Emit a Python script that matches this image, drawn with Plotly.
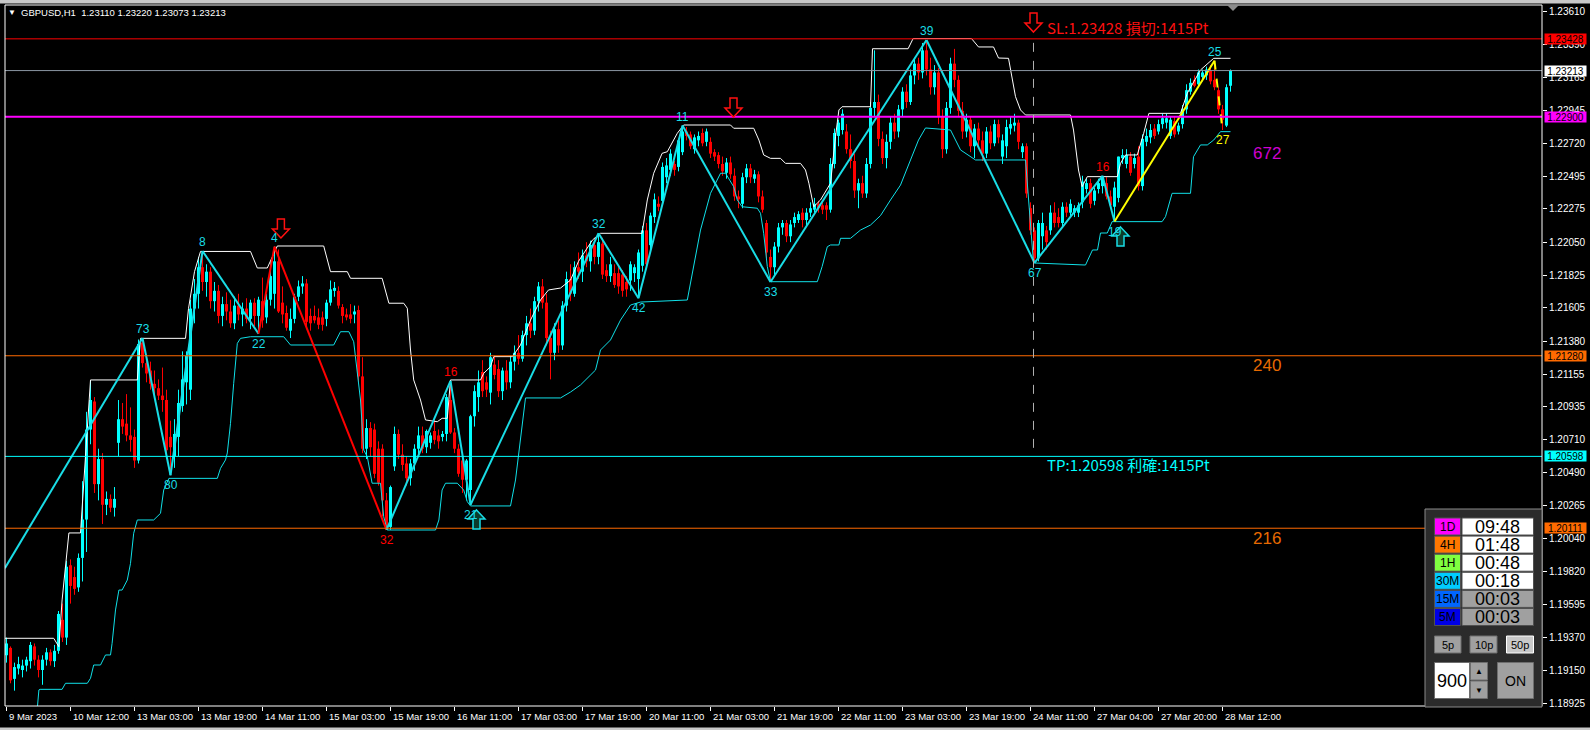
import plotly.graph_objects as go

# ---------------- data ----------------
SYMBOL = "GBPUSD,H1"
HEADER_OHLC = ["1.23110", "1.23220", "1.23073", "1.23213"]

opens = [
    1.1925, 1.1930, 1.1909, 1.1916, 1.1915, 1.1918, 1.1921, 1.1931, 1.1922, 1.1915,
    1.1922, 1.1927, 1.1921, 1.1928, 1.1949, 1.1937, 1.1986, 1.1978, 1.1971, 1.1991,
    1.2017, 1.2078, 1.2097, 1.2041, 1.2058, 1.2027, 1.2031, 1.2025, 1.2069, 1.2085,
    1.2082, 1.2074, 1.2073, 1.2057, 1.2137, 1.2123, 1.2118, 1.2109, 1.2106, 1.2101,
    1.2098, 1.2073, 1.2060, 1.2073, 1.2094, 1.2110, 1.2105, 1.2160, 1.2170, 1.2188,
    1.2178, 1.2185, 1.2165, 1.2172, 1.2155, 1.2163, 1.2158, 1.2150, 1.2162, 1.2156,
    1.2160, 1.2153, 1.2164, 1.2155, 1.2165, 1.2154, 1.2166, 1.2170, 1.2192, 1.2164,
    1.2157, 1.2145, 1.2153, 1.2168, 1.2175, 1.2177, 1.2155, 1.2155, 1.2154, 1.2154,
    1.2153, 1.2164, 1.2172, 1.2172, 1.2161, 1.2156, 1.2156, 1.2156, 1.2159, 1.2114,
    1.2065, 1.2079, 1.2078, 1.2065, 1.2065, 1.2030, 1.2012, 1.2053, 1.2075, 1.2061,
    1.2055, 1.2045, 1.2055, 1.2065, 1.2074, 1.2066, 1.2069, 1.2077, 1.2074, 1.2073,
    1.2075, 1.2098, 1.2076, 1.2065, 1.2057, 1.2044, 1.2037, 1.2087, 1.2100, 1.2117,
    1.2110, 1.2103, 1.2122, 1.2119, 1.2104, 1.2118, 1.2110, 1.2124, 1.2130, 1.2126,
    1.2142, 1.2150, 1.2145, 1.2165, 1.2175, 1.2164, 1.2140, 1.2130, 1.2146, 1.2135,
    1.2162, 1.2180, 1.2170, 1.2188, 1.2185, 1.2196, 1.2192, 1.2203, 1.2195, 1.2204,
    1.2186, 1.2182, 1.2184, 1.2184, 1.2183, 1.2178, 1.2179, 1.2184, 1.2180, 1.2189,
    1.2213, 1.2203, 1.2222, 1.2231, 1.2233, 1.2249, 1.2254, 1.2258, 1.2256, 1.2266,
    1.2280, 1.2278, 1.2268, 1.2274, 1.2279, 1.2273, 1.2273, 1.2266, 1.2264, 1.2258,
    1.2252, 1.2259, 1.2250, 1.2236, 1.2231, 1.2249, 1.2255, 1.2248, 1.2251, 1.2236,
    1.2218, 1.2195, 1.2188, 1.2202, 1.2215, 1.2218, 1.2209, 1.2218, 1.2220, 1.2225,
    1.2220, 1.2225, 1.2227, 1.2231, 1.2230, 1.2230, 1.2227, 1.2258, 1.2277, 1.2281,
    1.2280, 1.2268, 1.2260, 1.2240, 1.2245, 1.2238, 1.2258, 1.2296, 1.2300, 1.2275,
    1.2262, 1.2273, 1.2286, 1.2280, 1.2295, 1.2307, 1.2300, 1.2318, 1.2326, 1.2320,
    1.2335, 1.2322, 1.2310, 1.2320, 1.2290, 1.2268, 1.2296, 1.2326, 1.2315, 1.2294,
    1.2280, 1.2288, 1.2270, 1.2282, 1.2274, 1.2265, 1.2280, 1.2272, 1.2285, 1.2263,
    1.2270, 1.2282, 1.2284, 1.2286, 1.2266, 1.2270, 1.2228, 1.2213, 1.2194, 1.2209,
    1.2213, 1.2213, 1.2225, 1.2222, 1.2218, 1.2229, 1.2225, 1.2225, 1.2225, 1.2232,
    1.2241, 1.2245, 1.2233, 1.2241, 1.2243, 1.2245, 1.2236, 1.2229, 1.2235, 1.2262,
    1.2258, 1.2263, 1.2258, 1.2263, 1.2243, 1.2273, 1.2276, 1.2282, 1.2280, 1.2285,
    1.2286, 1.2277, 1.2287, 1.2280, 1.2285, 1.2295, 1.2307, 1.2315, 1.2312, 1.2317,
    1.2318, 1.2321, 1.2315, 1.2308, 1.2295, 1.2284, 1.2311,
]
highs = [
    1.1937, 1.1931, 1.1920, 1.1924, 1.1922, 1.1924, 1.1934, 1.1933, 1.1925, 1.1925,
    1.1930, 1.1929, 1.1932, 1.1955, 1.1960, 1.1989, 1.1990, 1.1985, 1.1994, 1.2043,
    1.2090, 1.2111, 1.2100, 1.2065, 1.2062, 1.2036, 1.2034, 1.2039, 1.2098, 1.2096,
    1.2102, 1.2093, 1.2078, 1.2139, 1.2140, 1.2128, 1.2124, 1.2118, 1.2112, 1.2120,
    1.2105, 1.2084, 1.2085, 1.2105, 1.2131, 1.2131, 1.2166, 1.2180, 1.2195, 1.2199,
    1.2190, 1.2188, 1.2178, 1.2176, 1.2168, 1.2171, 1.2166, 1.2168, 1.2170, 1.2164,
    1.2167, 1.2166, 1.2167, 1.2168, 1.2181, 1.2170, 1.2192, 1.2202, 1.2200, 1.2175,
    1.2162, 1.2160, 1.2170, 1.2179, 1.2182, 1.2180, 1.2160, 1.2162, 1.2160, 1.2158,
    1.2166, 1.2179, 1.2178, 1.2175, 1.2163, 1.2160, 1.2163, 1.2162, 1.2162, 1.2127,
    1.2085, 1.2083, 1.2082, 1.2070, 1.2068, 1.2035, 1.2040, 1.2080, 1.2078, 1.2068,
    1.2060, 1.2058, 1.2068, 1.2080, 1.2080, 1.2078, 1.2076, 1.2085, 1.2078, 1.2077,
    1.2102, 1.2111, 1.2079, 1.2068, 1.2060, 1.2058, 1.2088, 1.2108, 1.2118, 1.2125,
    1.2114, 1.2130, 1.2128, 1.2125, 1.2120, 1.2125, 1.2128, 1.2135, 1.2142, 1.2145,
    1.2155, 1.2160, 1.2168, 1.2178, 1.2180, 1.2170, 1.2145, 1.2150, 1.2152, 1.2165,
    1.2185, 1.2190, 1.2192, 1.2198, 1.2200, 1.2205, 1.2206, 1.2208, 1.2211, 1.2208,
    1.2190, 1.2195, 1.2190, 1.2188, 1.2186, 1.2182, 1.2192, 1.2190, 1.2200, 1.2216,
    1.2218, 1.2225, 1.2238, 1.2236, 1.2259, 1.2262, 1.2268, 1.2260, 1.2275, 1.2284,
    1.2283, 1.2280, 1.2278, 1.2280, 1.2282, 1.2282, 1.2276, 1.2268, 1.2266, 1.2263,
    1.2262, 1.2263, 1.2255, 1.2240, 1.2252, 1.2258, 1.2258, 1.2254, 1.2253, 1.2240,
    1.2220, 1.2200, 1.2205, 1.2218, 1.2220, 1.2220, 1.2220, 1.2225, 1.2226, 1.2228,
    1.2228, 1.2232, 1.2235, 1.2233, 1.2232, 1.2232, 1.2262, 1.2282, 1.2288, 1.2295,
    1.2285, 1.2278, 1.2265, 1.2248, 1.2250, 1.2262, 1.2300, 1.2335, 1.2305, 1.2280,
    1.2278, 1.2290, 1.2292, 1.2298, 1.2310, 1.2312, 1.2322, 1.2330, 1.2330, 1.2340,
    1.2342, 1.2330, 1.2325, 1.2323, 1.2295, 1.2300, 1.2330, 1.2336, 1.2318, 1.2300,
    1.2292, 1.2290, 1.2285, 1.2286, 1.2280, 1.2283, 1.2284, 1.2288, 1.2288, 1.2278,
    1.2288, 1.2290, 1.2292, 1.2288, 1.2272, 1.2272, 1.2232, 1.2215, 1.2220, 1.2225,
    1.2216, 1.2230, 1.2232, 1.2228, 1.2232, 1.2232, 1.2234, 1.2230, 1.2232, 1.2250,
    1.2248, 1.2248, 1.2242, 1.2248, 1.2250, 1.2249, 1.2240, 1.2246, 1.2263, 1.2268,
    1.2268, 1.2266, 1.2265, 1.2270, 1.2278, 1.2282, 1.2285, 1.2285, 1.2288, 1.2292,
    1.2292, 1.2290, 1.2290, 1.2286, 1.2298, 1.2312, 1.2316, 1.2318, 1.2322, 1.2322,
    1.2324, 1.2325, 1.2328, 1.2310, 1.2298, 1.2312, 1.2322,
]
lows = [
    1.1920, 1.1906, 1.1901, 1.1912, 1.1910, 1.1914, 1.1916, 1.1918, 1.1910, 1.1905,
    1.1918, 1.1918, 1.1917, 1.1926, 1.1934, 1.1932, 1.1960, 1.1966, 1.1968, 1.1975,
    1.1995, 1.2068, 1.2035, 1.2030, 1.2014, 1.2020, 1.2022, 1.2019, 1.2060, 1.2075,
    1.2070, 1.2063, 1.2052, 1.2055, 1.2120, 1.2110, 1.2105, 1.2100, 1.2098, 1.2090,
    1.2058, 1.2047, 1.2052, 1.2060, 1.2090, 1.2095, 1.2098, 1.2150, 1.2160, 1.2172,
    1.2168, 1.2160, 1.2158, 1.2150, 1.2148, 1.2152, 1.2147, 1.2146, 1.2152, 1.2148,
    1.2150, 1.2146, 1.2148, 1.2143, 1.2147, 1.2150, 1.2162, 1.2160, 1.2157, 1.2150,
    1.2145, 1.2140, 1.2150, 1.2165, 1.2170, 1.2148, 1.2145, 1.2150, 1.2146, 1.2145,
    1.2148, 1.2162, 1.2168, 1.2160, 1.2150, 1.2152, 1.2150, 1.2150, 1.2110, 1.2062,
    1.2058, 1.2060, 1.2045, 1.2040, 1.2019, 1.2010, 1.2010, 1.2050, 1.2058, 1.2050,
    1.2040, 1.2040, 1.2050, 1.2060, 1.2062, 1.2062, 1.2065, 1.2068, 1.2065, 1.2070,
    1.2070, 1.2075, 1.2062, 1.2046, 1.2035, 1.2030, 1.2027, 1.2080, 1.2090, 1.2100,
    1.2100, 1.2095, 1.2112, 1.2100, 1.2098, 1.2105, 1.2106, 1.2118, 1.2122, 1.2124,
    1.2135, 1.2140, 1.2142, 1.2158, 1.2160, 1.2135, 1.2112, 1.2125, 1.2130, 1.2132,
    1.2158, 1.2165, 1.2168, 1.2180, 1.2178, 1.2188, 1.2185, 1.2190, 1.2190, 1.2180,
    1.2178, 1.2178, 1.2174, 1.2170, 1.2168, 1.2168, 1.2172, 1.2178, 1.2167, 1.2185,
    1.2188, 1.2198, 1.2218, 1.2226, 1.2230, 1.2245, 1.2250, 1.2250, 1.2253, 1.2264,
    1.2274, 1.2268, 1.2265, 1.2270, 1.2270, 1.2270, 1.2262, 1.2260, 1.2255, 1.2250,
    1.2248, 1.2248, 1.2233, 1.2228, 1.2228, 1.2245, 1.2245, 1.2245, 1.2232, 1.2225,
    1.2194, 1.2178, 1.2182, 1.2198, 1.2210, 1.2205, 1.2205, 1.2215, 1.2218, 1.2215,
    1.2216, 1.2222, 1.2225, 1.2225, 1.2224, 1.2220, 1.2225, 1.2255, 1.2270, 1.2278,
    1.2265, 1.2255, 1.2235, 1.2228, 1.2235, 1.2235, 1.2255, 1.2290, 1.2270, 1.2258,
    1.2255, 1.2268, 1.2275, 1.2276, 1.2290, 1.2296, 1.2298, 1.2312, 1.2315, 1.2316,
    1.2318, 1.2305, 1.2305, 1.2285, 1.2262, 1.2265, 1.2292, 1.2310, 1.2290, 1.2275,
    1.2276, 1.2266, 1.2262, 1.2270, 1.2260, 1.2262, 1.2268, 1.2270, 1.2272, 1.2258,
    1.2262, 1.2278, 1.2280, 1.2268, 1.2262, 1.2235, 1.2210, 1.2191, 1.2192, 1.2200,
    1.2200, 1.2210, 1.2215, 1.2215, 1.2215, 1.2222, 1.2222, 1.2222, 1.2222, 1.2228,
    1.2238, 1.2228, 1.2230, 1.2238, 1.2238, 1.2234, 1.2228, 1.2219, 1.2232, 1.2258,
    1.2255, 1.2250, 1.2255, 1.2240, 1.2240, 1.2270, 1.2272, 1.2275, 1.2278, 1.2282,
    1.2282, 1.2275, 1.2276, 1.2278, 1.2282, 1.2292, 1.2305, 1.2310, 1.2310, 1.2314,
    1.2315, 1.2312, 1.2308, 1.2292, 1.2281, 1.2283, 1.2307,
]
closes = [
    1.1933, 1.1908, 1.1917, 1.1919, 1.1918, 1.1922, 1.1932, 1.1922, 1.1915, 1.1922,
    1.1927, 1.1921, 1.1928, 1.1953, 1.1937, 1.1985, 1.1972, 1.1970, 1.1991, 1.2017,
    1.2078, 1.2098, 1.2041, 1.2058, 1.2027, 1.2031, 1.2025, 1.2031, 1.2085, 1.2080,
    1.2074, 1.2071, 1.2057, 1.2136, 1.2123, 1.2116, 1.2109, 1.2106, 1.2101, 1.2098,
    1.2064, 1.2066, 1.2075, 1.2096, 1.2112, 1.2128, 1.2160, 1.2170, 1.2188, 1.2178,
    1.2185, 1.2165, 1.2172, 1.2155, 1.2163, 1.2158, 1.2150, 1.2162, 1.2156, 1.2160,
    1.2153, 1.2164, 1.2155, 1.2166, 1.2152, 1.2166, 1.2182, 1.2192, 1.2158, 1.2156,
    1.2147, 1.2153, 1.2168, 1.2175, 1.2177, 1.2151, 1.2150, 1.2152, 1.2149, 1.2149,
    1.2164, 1.2173, 1.2174, 1.2162, 1.2155, 1.2154, 1.2153, 1.2158, 1.2114, 1.2065,
    1.2079, 1.2066, 1.2048, 1.2042, 1.2030, 1.2012, 1.2039, 1.2075, 1.2061, 1.2054,
    1.2045, 1.2055, 1.2065, 1.2074, 1.2065, 1.2077, 1.2074, 1.2071, 1.2070, 1.2075,
    1.2100, 1.2076, 1.2065, 1.2048, 1.2044, 1.2057, 1.2087, 1.2104, 1.2110, 1.2104,
    1.2105, 1.2127, 1.2115, 1.2104, 1.2118, 1.2110, 1.2124, 1.2130, 1.2126, 1.2142,
    1.2150, 1.2145, 1.2165, 1.2175, 1.2164, 1.2140, 1.2130, 1.2146, 1.2135, 1.2162,
    1.2180, 1.2170, 1.2188, 1.2185, 1.2196, 1.2192, 1.2203, 1.2195, 1.2205, 1.2183,
    1.2182, 1.2190, 1.2176, 1.2175, 1.2172, 1.2173, 1.2190, 1.2188, 1.2198, 1.2213,
    1.2190, 1.2223, 1.2234, 1.2229, 1.2256, 1.2257, 1.2265, 1.2254, 1.2274, 1.2280,
    1.2277, 1.2270, 1.2276, 1.2277, 1.2272, 1.2280, 1.2265, 1.2263, 1.2258, 1.2253,
    1.2259, 1.2251, 1.2236, 1.2234, 1.2249, 1.2255, 1.2249, 1.2251, 1.2236, 1.2227,
    1.2198, 1.2188, 1.2202, 1.2215, 1.2218, 1.2209, 1.2217, 1.2222, 1.2224, 1.2220,
    1.2225, 1.2228, 1.2231, 1.2228, 1.2227, 1.2227, 1.2258, 1.2279, 1.2286, 1.2292,
    1.2268, 1.2260, 1.2240, 1.2245, 1.2238, 1.2258, 1.2296, 1.2300, 1.2275, 1.2262,
    1.2273, 1.2286, 1.2280, 1.2295, 1.2307, 1.2300, 1.2318, 1.2326, 1.2320, 1.2335,
    1.2322, 1.2310, 1.2320, 1.2290, 1.2268, 1.2296, 1.2326, 1.2315, 1.2294, 1.2280,
    1.2288, 1.2270, 1.2282, 1.2274, 1.2265, 1.2280, 1.2272, 1.2285, 1.2276, 1.2274,
    1.2283, 1.2285, 1.2286, 1.2273, 1.2270, 1.2238, 1.2213, 1.2194, 1.2218, 1.2218,
    1.2205, 1.2225, 1.2218, 1.2218, 1.2229, 1.2225, 1.2231, 1.2228, 1.2230, 1.2246,
    1.2245, 1.2231, 1.2240, 1.2245, 1.2249, 1.2236, 1.2230, 1.2242, 1.2263, 1.2264,
    1.2264, 1.2252, 1.2262, 1.2243, 1.2275, 1.2277, 1.2281, 1.2277, 1.2285, 1.2289,
    1.2289, 1.2288, 1.2278, 1.2284, 1.2295, 1.2308, 1.2313, 1.2311, 1.2320, 1.2320,
    1.2322, 1.2314, 1.2310, 1.2295, 1.2288, 1.2310, 1.2321,
]
assert len(opens) == len(highs) == len(lows) == len(closes)
bar_index = list(range(len(closes)))

time_tick_bars = [0, 16, 32, 48, 64, 80, 96, 112, 128, 144, 160, 176, 192, 208, 224, 240, 256, 272, 288, 304]
time_tick_labels = ["9 Mar 2023", "10 Mar 12:00", "13 Mar 03:00", "13 Mar 19:00", "14 Mar 11:00",
                    "15 Mar 03:00", "15 Mar 19:00", "16 Mar 11:00", "17 Mar 03:00", "17 Mar 19:00",
                    "20 Mar 11:00", "21 Mar 03:00", "21 Mar 19:00", "22 Mar 11:00", "23 Mar 03:00",
                    "23 Mar 19:00", "24 Mar 11:00", "27 Mar 04:00", "27 Mar 20:00", "28 Mar 12:00"]

price_ticks = [1.23610, 1.23390, 1.23165, 1.22945, 1.22720, 1.22495, 1.22275, 1.22050, 1.21825,
               1.21605, 1.21380, 1.21155, 1.20935, 1.20710, 1.20490, 1.20265, 1.20040, 1.19820,
               1.19595, 1.19370, 1.19150, 1.18925]

# horizontal levels: SL, current price, 1.22900, 1.21280, TP, 1.20111
level_prices = [1.23428, 1.23213, 1.22900, 1.21280, 1.20598, 1.20111]
level_colors = ["#FF0000", "#8A96A3", "#FF00FF", "#FF6A00", "#00FFFF", "#FF6A00"]
level_box_colors = ["#FF0000", "#FFFFFF", "#FF00FF", "#FF6A00", "#00FFFF", "#FF6A00"]
level_widths = [1, 1, 2, 1, 1, 1]

count_labels = ["672", "240", "216"]
count_label_prices = [1.22648, 1.21211, 1.20040]
count_label_colors = ["#D000D0", "#E86A00", "#E86A00"]
count_label_bar = 315

# zigzag pivots
zz_bars = [-0.4, 34, 41, 49, 63, 67, 95, 111, 116, 148, 158, 169, 191, 230, 257, 274, 277, 302, 304]
zz_prices = [1.1984, 1.2140, 1.2047, 1.2199, 1.2143, 1.2202, 1.2010, 1.2111, 1.2027, 1.2211,
             1.2167, 1.2284, 1.2178, 1.2342, 1.2191, 1.2250, 1.2219, 1.2328, 1.2281]
zz_labels = ["", "73", "80", "8", "22", "4", "32", "16", "21", "32", "42", "11", "33", "39", "67",
             "16", "19", "25", "27"]
CY, RD, YL = "#19DDE6", "#FF0000", "#FFFF00"
zz_label_colors = [CY, CY, CY, CY, CY, CY, RD, RD, CY, CY, CY, CY, CY, CY, CY, RD, CY, CY, YL]
zz_seg_colors = [CY, CY, CY, CY, RD, RD, CY, CY, CY, CY, CY, CY, CY, CY, CY, CY, YL, YL]
zz_seg_dash = ["solid"] * 17 + ["dash"]

# channel lines (upper = white, lower = cyan)
upper_bars = [-0.4, 11.8, 13.1, 13.9, 15.6, 18.5, 21, 32.7, 33.5, 44.75, 45.5, 47, 48.5, 61, 62.7,
              65.2, 67.7, 79.3, 81, 85.2, 86, 93.9, 95.6, 99.3, 100.2, 101, 101.8, 103.5, 104.75,
              107.7, 108.9, 110.2, 111, 118.5, 119.3, 121, 121.8, 126.5, 128.5, 131, 133.5, 135.5,
              138.5, 141, 143, 144.75, 146.5, 148.5, 158.9, 160.2, 161.8, 163.9, 165.2, 167.7, 169.3,
              181, 181.8, 186.8, 188.1, 189.3, 191, 193.5, 194.75, 198.5, 199.75, 200.6, 201.8, 203.5,
              206, 207.25, 208.1, 208.9, 216, 216.5, 225.4, 226.65, 241.25, 243, 246.75, 248, 250.5,
              252.25, 253.5, 254.75, 266, 266.75, 268, 268.9, 270.2, 277.7, 278.5, 279.75, 282.7,
              284.3, 285.6, 293.5, 295.2, 298.5, 301.8, 306]
upper_prices = [1.19365, 1.19365, 1.19308, 1.19625, 1.20079, 1.20079, 1.21116, 1.21116, 1.21398,
                1.21398, 1.2160, 1.2185, 1.21987, 1.21987, 1.21875, 1.21875, 1.22024, 1.22024, 1.2185,
                1.2185, 1.21805, 1.21805, 1.21636, 1.21636, 1.21602, 1.21319, 1.21116, 1.2098,
                1.20845, 1.20833, 1.20856, 1.20856, 1.21116, 1.21116, 1.21161, 1.21206, 1.21274,
                1.21274, 1.21353, 1.21522, 1.21658, 1.21726, 1.21739, 1.21793, 1.2192, 1.21997,
                1.22065, 1.2211, 1.2211, 1.22336, 1.22517, 1.22652, 1.22663, 1.22788, 1.22844,
                1.22844, 1.22822, 1.22822, 1.22742, 1.22641, 1.22618, 1.22618, 1.22584, 1.22584,
                1.22539, 1.22449, 1.2229, 1.22336, 1.22449, 1.22765, 1.22946, 1.22968, 1.22968,
                1.23361, 1.23361, 1.2343, 1.2343, 1.23373, 1.23373, 1.23298, 1.23296, 1.23036,
                1.22946, 1.22912, 1.22912, 1.2281, 1.22539, 1.22426, 1.22494, 1.22494, 1.22584,
                1.22641, 1.22641, 1.22788, 1.22923, 1.22923, 1.2306, 1.23217, 1.23296, 1.23296]
lower_bars = [7.6, 8.1, 8.4, 13.9, 14.75, 20.2, 21, 21.8, 23.5, 24.75, 26, 26.4, 27.25, 28.1, 28.9,
              30.2, 31, 31.8, 32.7, 36.8, 38.5, 39.3, 40.6, 52.7, 53.5, 54.75, 55.2, 56, 56.8, 57.7,
              58.5, 61, 69.3, 71, 81.8, 83.5, 85.6, 86.8, 88.5, 89.3, 90.2, 91.4, 93.5, 94.3, 95.2,
              107.25, 108.1, 108.9, 109.75, 112.7, 114.3, 115.2, 116, 126, 127.25, 128.5, 129.75,
              138.5, 141, 143.5, 147.25, 148.5, 151, 153.5, 156, 158.5, 170.2, 173.5, 176, 178.5,
              179.75, 181.8, 182.7, 183.9, 187.7, 188.5, 189.3, 190.2, 191, 202.7, 203.9, 205.2, 206,
              208.1, 208.5, 211, 213.5, 216, 218.5, 221, 223.5, 226, 228, 229.75, 236, 238.5, 242.25,
              254.75, 256.75, 269.75, 270.5, 271.5, 272.75, 273.5, 275.2, 276.4, 288.9, 289.75,
              291.4, 296, 296.75, 298.5, 300.2, 301.8, 303.5, 306]
lower_prices = [1.1886, 1.19015, 1.19019, 1.19019, 1.1906, 1.1906, 1.19094, 1.19184, 1.19184,
                1.19252, 1.19252, 1.19331, 1.19557, 1.19692, 1.19692, 1.1976, 1.19873, 1.20077,
                1.20167, 1.20167, 1.20212, 1.2037, 1.20449, 1.20449, 1.20517, 1.20574, 1.20621,
                1.20822, 1.21093, 1.21364, 1.21398, 1.21409, 1.21409, 1.21353, 1.21353, 1.21443,
                1.21443, 1.21375, 1.2098, 1.20641, 1.20596, 1.20416, 1.20416, 1.20189, 1.20099,
                1.20099, 1.20167, 1.2037, 1.20416, 1.20416, 1.2037, 1.20291, 1.20262, 1.20262,
                1.20438, 1.20709, 1.20994, 1.20994, 1.21034, 1.21082, 1.21183, 1.21319, 1.21387,
                1.21522, 1.21624, 1.21644, 1.21658, 1.22132, 1.22381, 1.22517, 1.22517, 1.22426,
                1.22336, 1.2229, 1.2228, 1.22246, 1.2211, 1.21884, 1.21782, 1.21782, 1.21884,
                1.22019, 1.22031, 1.22031, 1.22076, 1.22076, 1.22132, 1.22166, 1.2223, 1.22336,
                1.22437, 1.22607, 1.22742, 1.22824, 1.2281, 1.22675, 1.22607, 1.22607, 1.21909,
                1.21895, 1.21943, 1.21997, 1.21997, 1.22112, 1.22112, 1.22189, 1.22189, 1.22223,
                1.22381, 1.22381, 1.22629, 1.22709, 1.22709, 1.22742, 1.22799, 1.22799]

# signal arrows (bar, tip price)
sell_arrow_bars = [68.6, 181.75, 256.75]
sell_arrow_tips = [1.22078, 1.22898, 1.23474]
buy_arrow_bars = [117.5, 278.5]
buy_arrow_tips = [1.20235, 1.22153]

sl_text = "SL:1.23428 損切:1415Pt"
tp_text = "TP:1.20598 利確:1415Pt"
sl_tp_bar = 256.75
text_bar = 259.6
sl_text_price = 1.23502
tp_text_price = 1.20540

timer_labels = ["1D", "4H", "1H", "30M", "15M", "5M"]
timer_values = ["09:48", "01:48", "00:48", "00:18", "00:03", "00:03"]
timer_colors = ["#FF00FF", "#FF7700", "#80FF40", "#00CCFF", "#0066FF", "#0000E6"]
timer_active = [True, True, True, True, False, False]
pip_buttons = ["5p", "10p", "50p"]
lot_value = "900"

# ---------------- geometry ----------------
L, R, T, B = 5, 1542, 5, 706
X_RANGE = [-0.375, 383.875]
Y_RANGE = [1.189061, 1.236574]
BAR_PX = (R - L) / (X_RANGE[1] - X_RANGE[0])
PRICE_PER_PX = (Y_RANGE[1] - Y_RANGE[0]) / (B - T)


def px(x):
    return (x - L) / (R - L)


def py(y):
    return (B - y) / (B - T)


SANS = "Liberation Sans, Arial, sans-serif"
CJK = "Noto Sans CJK JP, Noto Sans CJK SC, sans-serif"
AXIS_FONT = 9.5

fig = go.Figure()

# ---- candles ----
up_c, dn_c = "#00FFFF", "#FF0000"
body_base = [min(o, c) for o, c in zip(opens, closes)]
body_h = [max(abs(c - o), PRICE_PER_PX) for o, c in zip(opens, closes)]
body_col = [up_c if c >= o else dn_c for o, c in zip(opens, closes)]
for col in (up_c, dn_c):
    wx, wy = [], []
    for i in bar_index:
        if body_col[i] == col:
            wx += [i, i, None]
            wy += [lows[i], highs[i], None]
    fig.add_trace(go.Scatter(x=wx, y=wy, mode="lines", line=dict(color=col, width=1),
                             hoverinfo="skip", showlegend=False))
fig.add_trace(go.Bar(x=bar_index, y=body_h, base=body_base, width=0.75,
                     marker=dict(color=body_col, line=dict(width=0)),
                     hoverinfo="skip", showlegend=False))

# ---- channels ----
fig.add_trace(go.Scatter(x=upper_bars, y=upper_prices, mode="lines",
                         line=dict(color="#FFFFFF", width=1), hoverinfo="skip", showlegend=False))
fig.add_trace(go.Scatter(x=lower_bars, y=lower_prices, mode="lines",
                         line=dict(color="#10E0E8", width=1), hoverinfo="skip", showlegend=False))

# ---- zigzag ----
for k in range(len(zz_bars) - 1):
    fig.add_trace(go.Scatter(x=[zz_bars[k], zz_bars[k + 1]], y=[zz_prices[k], zz_prices[k + 1]],
                             mode="lines", line=dict(color=zz_seg_colors[k], width=2, dash=zz_seg_dash[k]),
                             hoverinfo="skip", showlegend=False))

shapes, annotations = [], []

# ---- horizontal levels ----
for p, col, w in zip(level_prices, level_colors, level_widths):
    shapes.append(dict(type="line", xref="paper", yref="y", x0=0, x1=1, y0=p, y1=p,
                       line=dict(color=col, width=w), layer="above"))

# vertical dashed SL->TP
shapes.append(dict(type="line", xref="x", yref="y", x0=sl_tp_bar, x1=sl_tp_bar,
                   y0=level_prices[0] - 4 * PRICE_PER_PX, y1=level_prices[4],
                   line=dict(color="#B0B0B0", width=1, dash="dash"), layer="above"))


def arrow_path(i, tip, up):
    hw, sw = 8.5 / BAR_PX, 3.5 / BAR_PX
    hh, ht = 9 * PRICE_PER_PX, 19 * PRICE_PER_PX
    s = 1 if up else -1
    pts = [(i, tip), (i + hw, tip - s * hh), (i + sw, tip - s * hh), (i + sw, tip - s * ht),
           (i - sw, tip - s * ht), (i - sw, tip - s * hh), (i - hw, tip - s * hh)]
    return "M " + " L ".join(f"{a},{b}" for a, b in pts) + " Z"


for i, t in zip(sell_arrow_bars, sell_arrow_tips):
    shapes.append(dict(type="path", xref="x", yref="y", path=arrow_path(i, t, False),
                       fillcolor="#000000", line=dict(color="#FF1010", width=1.5), layer="above"))
for i, t in zip(buy_arrow_bars, buy_arrow_tips):
    shapes.append(dict(type="path", xref="x", yref="y", path=arrow_path(i, t, True),
                       fillcolor="#0B3B2C", line=dict(color="#19DDE6", width=1.5), layer="above"))

# frame
shapes.append(dict(type="rect", xref="paper", yref="paper", x0=0, x1=1, y0=0, y1=1,
                   line=dict(color="#FFFFFF", width=1), layer="above"))
# window strips and shift marker
shapes.append(dict(type="rect", xref="paper", yref="paper", x0=px(0), x1=px(1590), y0=py(3.5), y1=py(0),
                   fillcolor="#C8C8C8", line=dict(width=0), layer="above"))
shapes.append(dict(type="rect", xref="paper", yref="paper", x0=px(0), x1=px(1590), y0=py(730), y1=py(727.5),
                   fillcolor="#C8C8C8", line=dict(width=0), layer="above"))
shapes.append(dict(type="path", xref="paper", yref="paper",
                   path=f"M {px(1227)},{py(5)} L {px(1239)},{py(5)} L {px(1233)},{py(11)} Z",
                   fillcolor="#8C8C8C", line=dict(width=0), layer="above"))

# zigzag labels
for k in range(1, len(zz_bars)):
    is_peak = zz_prices[k] > zz_prices[k - 1]
    annotations.append(dict(x=zz_bars[k], y=zz_prices[k], xref="x", yref="y", text=zz_labels[k],
                            showarrow=False, font=dict(family=SANS, size=12, color=zz_label_colors[k]),
                            yshift=9 if is_peak else -10, xanchor="center", yanchor="middle"))

# level counts
for t, p, c in zip(count_labels, count_label_prices, count_label_colors):
    annotations.append(dict(x=count_label_bar, y=p, xref="x", yref="y", text=t, showarrow=False,
                            font=dict(family=SANS, size=17, color=c), xanchor="center", yanchor="middle"))

# SL / TP text
annotations.append(dict(x=text_bar, y=sl_text_price, xref="x", yref="y", text=sl_text, showarrow=False,
                        font=dict(family=CJK, size=15, color="#FF1010"), xanchor="left", yanchor="middle"))
annotations.append(dict(x=text_bar, y=tp_text_price, xref="x", yref="y", text=tp_text, showarrow=False,
                        font=dict(family=CJK, size=15, color="#00FFFF"), xanchor="left", yanchor="middle"))

# right price boxes
for p, bc in zip(level_prices, level_box_colors):
    annotations.append(dict(x=1, y=p, xref="paper", yref="y", text=f"{p:.5f}", showarrow=False,
                            font=dict(family=SANS, size=10, color="#000000"), bgcolor=bc,
                            xanchor="left", yanchor="middle", xshift=2, width=41, height=10,
                            borderpad=0, align="center"))

# x labels
for b, t in zip(time_tick_bars, time_tick_labels):
    annotations.append(dict(x=b, y=py(716.5), xref="x", yref="paper", text=t, showarrow=False,
                            font=dict(family=SANS, size=AXIS_FONT, color="#FFFFFF"), xanchor="left",
                            yanchor="middle", xshift=0))

# header
annotations.append(dict(x=px(11.5), y=py(12.5), xref="paper", yref="paper", text="▼", showarrow=False,
                        font=dict(family=SANS, size=8, color="#FFFFFF"), xanchor="center", yanchor="middle"))
annotations.append(dict(x=px(19), y=py(12.5), xref="paper", yref="paper",
                        text=SYMBOL + "&nbsp;&nbsp;" + " ".join(HEADER_OHLC), showarrow=False,
                        font=dict(family=SANS, size=AXIS_FONT, color="#FFFFFF"), xanchor="left",
                        yanchor="middle"))


# ---- timer panel ----
def rect(x0, y0, x1, y1, fill, line=None, lw=1):
    shapes.append(dict(type="rect", xref="paper", yref="paper", x0=px(x0), x1=px(x1), y0=py(y1), y1=py(y0),
                       fillcolor=fill, line=dict(color=line if line else fill, width=lw if line else 0),
                       layer="above"))


def text(x, y, s, size, color="#000000", family=SANS):
    annotations.append(dict(x=px(x), y=py(y), xref="paper", yref="paper", text=s, showarrow=False,
                            font=dict(family=family, size=size, color=color), xanchor="center",
                            yanchor="middle"))


rect(1425, 509, 1542, 707, "#2B2B2B", "#8A8A8A", 1)
for r in range(6):
    y0 = 518 + 18.1 * r
    y1 = y0 + 17
    rect(1434.5, y0, 1460.5, y1, timer_colors[r], "#505050", 1)
    rect(1462, y0, 1533.5, y1, "#FFFFFF" if timer_active[r] else "#A0A0A0", "#505050", 1)
    text(1447.5, y0 + 8.8, timer_labels[r], 12, "#000000")
    text(1497.5, y0 + 8.8, timer_values[r], 18, "#000000")
btn_x = [(1434.5, 1461), (1470, 1497), (1506.5, 1533.5)]
for (a, b_), lab, k in zip(btn_x, pip_buttons, range(3)):
    rect(a, 636, b_, 653, "#C8C8C8" if k == 2 else "#A0A0A0", "#FFFFFF" if k == 2 else "#6E6E6E", 1)
    text((a + b_) / 2, 644.5, lab, 11, "#000000")
rect(1434.5, 662.5, 1469.5, 698.5, "#FFFFFF", "#6E6E6E", 1)
text(1452, 681, lot_value, 18, "#000000")
rect(1470.5, 662.5, 1487.5, 680, "#A0A0A0", "#6E6E6E", 1)
rect(1470.5, 681, 1487.5, 698.5, "#A0A0A0", "#6E6E6E", 1)
text(1479, 671.5, "▲", 8, "#000000")
text(1479, 690, "▼", 8, "#000000")
rect(1497.5, 662.5, 1533.5, 698.5, "#A0A0A0", "#6E6E6E", 1)
text(1515.5, 680.5, "ON", 14, "#000000")

fig.update_layout(
    width=1590, height=730,
    margin=dict(l=L, r=1590 - R, t=T, b=730 - B, autoexpand=False),
    paper_bgcolor="#000000", plot_bgcolor="#000000",
    barmode="overlay", showlegend=False, hovermode=False,
    shapes=shapes, annotations=annotations,
    xaxis=dict(range=X_RANGE, showgrid=False, zeroline=False, showline=False,
               tickvals=time_tick_bars, ticks="outside", ticklen=4, tickwidth=1, tickcolor="#FFFFFF",
               showticklabels=False, fixedrange=True),
    yaxis=dict(range=Y_RANGE, side="right", showgrid=False, zeroline=False, showline=False,
               tickvals=price_ticks, ticktext=[f"{v:.5f}" for v in price_ticks],
               ticks="outside", ticklen=4, tickwidth=1, tickcolor="#FFFFFF",
               tickfont=dict(family=SANS, size=10, color="#FFFFFF"), fixedrange=True),
)

fig.write_html("out.html", config={"displayModeBar": False, "staticPlot": True},
               post_script="document.body.style.margin='0px';document.body.style.background='#000';")
